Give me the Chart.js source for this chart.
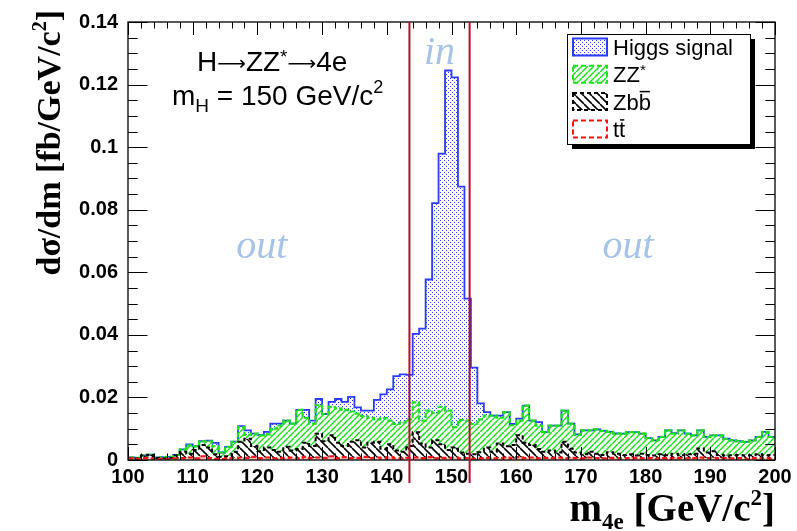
<!DOCTYPE html>
<html>
<head>
<meta charset="utf-8">
<script src="https://cdn.jsdelivr.net/npm/chart.js@4.4.0/dist/chart.umd.min.js"></script>
<style>
  html, body { margin: 0; padding: 0; background: #fff; }
  canvas { display: block; }
</style>
</head>
<body>
<canvas id="massChart" width="797" height="531"></canvas>
<script>
// m4e histogram, 1 GeV/c2 bins from 100 to 200
const binStart = 100;
const binWidth = 1;
const xTickValues = [100, 110, 120, 130, 140, 150, 160, 170, 180, 190, 200];
const yTickValues = [0, 0.02, 0.04, 0.06, 0.08, 0.1, 0.12, 0.14];

// dsigma/dm per bin [fb/GeV/c2], one entry per bin (stacked bottom -> top)
const ttbar = [
  .0005, .0004, .0006, .0005, .0003, .0004, .0003, .0005, .0006, .0008,
  .0005, .0012, .0006, .0004, .0003, .0005, .0006, .0008, .0007, .0010,
  .0006, .0008, .0005, .0006, .0007, .0008, .0005, .0010, .0006, .0008,
  .0007, .0012, .0005, .0009, .0006, .0007, .0010, .0006, .0008, .0005,
  .0009, .0006, .0005, .0007, .0008, .0006, .0009, .0005, .0007, .0006,
  .0008, .0005, .0006, .0004, .0005, .0007, .0005, .0006, .0008, .0005,
  .0009, .0006, .0008, .0005, .0007, .0006, .0008, .0005, .0007, .0006,
  .0005, .0008, .0006, .0005, .0007, .0006, .0005, .0006, .0007, .0005,
  .0006, .0004, .0006, .0005, .0007, .0006, .0005, .0006, .0008, .0006,
  .0007, .0005, .0006, .0005, .0006, .0004, .0006, .0005, .0007, .0005
];
const zbb = [
  .0001, .0001, .0008, .0011, .0003, .0001, .0003, .0010, .0020, .0012,
  .0027, .0036, .0034, .0014, .0007, .0007, .0020, .0050, .0061, .0035,
  .0022, .0032, .0027, .0020, .0035, .0022, .0030, .0045, .0039, .0076,
  .0053, .0067, .0050, .0036, .0052, .0056, .0030, .0049, .0050, .0031,
  .0041, .0024, .0021, .0038, .0081, .0047, .0031, .0058, .0043, .0026,
  .0032, .0019, .0014, .0014, .0020, .0033, .0021, .0047, .0036, .0043,
  .0070, .0049, .0040, .0030, .0019, .0024, .0016, .0053, .0029, .0018,
  .0013, .0018, .0014, .0011, .0018, .0014, .0011, .0012, .0007, .0015,
  .0010, .0010, .0012, .0010, .0013, .0009, .0013, .0014, .0029, .0018,
  .0021, .0011, .0008, .0010, .0010, .0010, .0009, .0013, .0008, .0011
];
const zzStar = [
  .0002, .0002, .0001, .0001, .0002, .0004, .0004, .0001, .0008, .0027,
  .0012, .0012, .0020, .0026, .0014, .0030, .0032, .0047, .0012, .0039,
  .0051, .0042, .0068, .0084, .0084, .0086, .0125, .0080, .0071, .0091,
  .0087, .0091, .0110, .0115, .0097, .0085, .0100, .0080, .0072, .0098,
  .0076, .0085, .0094, .0085, .0095, .0073, .0118, .0087, .0120, .0126,
  .0065, .0104, .0106, .0097, .0105, .0102, .0116, .0082, .0109, .0063,
  .0047, .0119, .0078, .0075, .0063, .0080, .0086, .0100, .0080, .0056,
  .0077, .0069, .0078, .0077, .0065, .0064, .0068, .0071, .0075, .0064,
  .0054, .0049, .0056, .0080, .0064, .0080, .0066, .0059, .0058, .0050,
  .0051, .0063, .0054, .0048, .0044, .0044, .0048, .0056, .0075, .0058
];
const higgs = [
  0, 0, 0, 0, 0, 0, 0, 0, 0, .0003,
  0, 0, .0002, .0011, 0, 0, .0001, .0003, .0015, 0,
  .0001, .0008, .0016, .0006, 0, 0, 0, .0025, .0010, .0020,
  0, .0016, .0030, .0026, .0047, .0020, .0018, .0023, .0062, .0076,
  .0100, .0153, .0154, .0142, .0219, .0294, .0419, .0671, .0809, .1087,
  .1118, .0746, .0390, .0180, .0051, .0011, 0, .0007, 0, .0004,
  .0006, 0, 0, .0011, 0, 0, 0, 0, 0, .0002,
  0, 0, 0, 0, 0, .0001, 0, 0, 0, 0,
  0, 0, 0, 0, .0002, 0, 0, 0, 0, 0,
  0, 0, 0, 0, 0, 0, 0, 0, 0, 0
];

// mass window ("in" region) edges
const cutLow = 143.5;
const cutHigh = 152.8;

const SANS = '"Liberation Sans", Arial, Helvetica, sans-serif';
const SERIF = '"Liberation Serif", "Times New Roman", serif';

function dotPattern(color) {
  const c = document.createElement('canvas');
  c.width = 4; c.height = 4;
  const g = c.getContext('2d');
  g.fillStyle = '#fff';
  g.fillRect(0, 0, 4, 4);
  g.fillStyle = color;
  g.fillRect(0, 0, 1, 1);
  g.fillRect(2, 2, 1, 1);
  return g.createPattern(c, 'repeat');
}

function hatchPattern(color, size, up, lw) {
  const c = document.createElement('canvas');
  c.width = size; c.height = size;
  const g = c.getContext('2d');
  g.strokeStyle = color;
  g.lineWidth = lw;
  g.beginPath();
  for (let k = -1; k <= 1; k++) {
    if (up) {
      g.moveTo(k * size, size); g.lineTo(k * size + size, 0);
    } else {
      g.moveTo(k * size, 0); g.lineTo(k * size + size, size);
    }
  }
  g.stroke();
  return g.createPattern(c, 'repeat');
}

const higgsFill = dotPattern('#2a3cff');
const zzFill = hatchPattern('#1ee01e', 6, true, 1.5);
const zbbFill = hatchPattern('#000', 8, false, 1.6);

function histPoints(vals) {
  const pts = vals.map((v, i) => ({ x: binStart + i * binWidth, y: v }));
  pts.push({ x: binStart + vals.length * binWidth, y: vals[vals.length - 1] });
  return pts;
}

// text with sub/superscripts and overlines
function richText(ctx, parts, x, y, align) {
  let w = 0;
  parts.forEach(p => { ctx.font = p.font; w += ctx.measureText(p.text).width; });
  let cx = align === 'right' ? x - w : x;
  ctx.textAlign = 'left';
  ctx.textBaseline = 'alphabetic';
  parts.forEach(p => {
    ctx.font = p.font;
    const pw = ctx.measureText(p.text).width;
    ctx.fillText(p.text, cx, y + (p.dy || 0));
    if (p.over) {
      ctx.save();
      ctx.lineWidth = 1.5;
      ctx.strokeStyle = ctx.fillStyle;
      ctx.beginPath();
      ctx.moveTo(cx + 1, y - p.over);
      ctx.lineTo(cx + pw - 1, y - p.over);
      ctx.stroke();
      ctx.restore();
    }
    cx += pw;
  });
}

const legendItems = [
  { parts: [{ text: 'Higgs signal' }], fill: higgsFill, line: '#2a3cff', dash: [] },
  { parts: [{ text: 'ZZ' }, { text: '*', small: true, dy: -7 }], fill: zzFill, line: '#1ee01e', dash: [5, 3] },
  { parts: [{ text: 'Zb' }, { text: 'b', over: 18 }], fill: zbbFill, line: '#000', dash: [4, 3] },
  { parts: [{ text: 't' }, { text: 't', over: 17 }], fill: null, line: '#ff1010', dash: [5, 3] }
];

const ARROW = '20px "DejaVu Sans", ' + SANS;

const rootFrame = {
  id: 'rootFrame',
  beforeDraw(chart) {
    const ctx = chart.ctx;
    ctx.save();
    ctx.fillStyle = '#fff';
    ctx.fillRect(0, 0, chart.width, chart.height);
    ctx.restore();
  },
  afterDatasetsDraw(chart) {
    const { ctx, chartArea: a, scales: { x, y } } = chart;
    ctx.save();
    // frame
    ctx.strokeStyle = '#000';
    ctx.lineWidth = 1.3;
    ctx.strokeRect(a.left, a.top, a.right - a.left, a.bottom - a.top);
    // ticks inside the frame, on all four sides
    ctx.lineWidth = 1;
    ctx.beginPath();
    for (let v = 100; v <= 200; v += 2) {
      const px = Math.round(x.getPixelForValue(v)) + 0.5;
      const len = v % 10 === 0 ? 13 : 6.5;
      ctx.moveTo(px, a.bottom); ctx.lineTo(px, a.bottom - len);
      ctx.moveTo(px, a.top); ctx.lineTo(px, a.top + len);
    }
    for (let k = 0; k <= 28; k++) {
      const py = Math.round(y.getPixelForValue(k * 0.005)) + 0.5;
      const len = k % 4 === 0 ? 19.5 : 9.7;
      ctx.moveTo(a.left, py); ctx.lineTo(a.left + len, py);
      ctx.moveTo(a.right, py); ctx.lineTo(a.right - len, py);
    }
    ctx.stroke();
    // mass window lines
    ctx.strokeStyle = '#b0102c';
    ctx.lineWidth = 2;
    ctx.beginPath();
    [cutLow, cutHigh].forEach(v => {
      const px = x.getPixelForValue(v);
      ctx.moveTo(px, a.top);
      ctx.lineTo(px, a.bottom + 23);
    });
    ctx.stroke();
    ctx.restore();
  },
  afterDraw(chart) {
    const { ctx, chartArea: a, scales: { x, y } } = chart;
    ctx.save();
    ctx.fillStyle = '#000';

    // axis titles
    richText(ctx, [
      { text: 'm', font: 'bold 39px ' + SERIF },
      { text: '4e', font: 'bold 23px ' + SERIF, dy: 8 },
      { text: ' [GeV/c', font: 'bold 39px ' + SERIF },
      { text: '2', font: 'bold 23px ' + SERIF, dy: -16 },
      { text: ']', font: 'bold 39px ' + SERIF }
    ], a.right, 521, 'right');

    ctx.save();
    ctx.translate(60, 10);
    ctx.rotate(-Math.PI / 2);
    richText(ctx, [
      { text: 'd\u03c3/dm [fb/GeV/c', font: 'bold 34px ' + SERIF },
      { text: '2', font: 'bold 20px ' + SERIF, dy: -14 },
      { text: ']', font: 'bold 34px ' + SERIF }
    ], 0, 0, 'right');
    ctx.restore();

    // process labels
    richText(ctx, [
      { text: 'H', font: '28px ' + SANS },
      { text: '\u27f6', font: ARROW, dy: -1 },
      { text: 'ZZ', font: '28px ' + SANS },
      { text: '*', font: '19px ' + SANS, dy: -8 },
      { text: '\u27f6', font: ARROW, dy: -1 },
      { text: '4e', font: '28px ' + SANS }
    ], 197, 71, 'left');
    richText(ctx, [
      { text: 'm', font: '28px ' + SANS },
      { text: 'H', font: '19px ' + SANS, dy: 7 },
      { text: ' = 150 GeV/c', font: '28px ' + SANS },
      { text: '2', font: '18px ' + SANS, dy: -12 }
    ], 172, 105, 'left');

    // in / out regions
    ctx.fillStyle = '#a6c3e8';
    ctx.font = 'italic 40px ' + SERIF;
    ctx.textAlign = 'center';
    ctx.fillText('in', (x.getPixelForValue(cutLow) + x.getPixelForValue(cutHigh)) / 2, 64);
    ctx.fillText('out', x.getPixelForValue(120.7), 258);
    ctx.fillText('out', x.getPixelForValue(177.3), 258);

    // legend box with shadow
    const lx = 567, ly = 34, lw = 183, lh = 110;
    ctx.fillStyle = '#000';
    ctx.fillRect(lx + 5, ly + 5, lw, lh);
    ctx.fillStyle = '#fff';
    ctx.fillRect(lx, ly, lw, lh);
    ctx.strokeStyle = '#000';
    ctx.lineWidth = 1;
    ctx.strokeRect(lx + 0.5, ly + 0.5, lw, lh);
    legendItems.forEach((it, i) => {
      const cy = 47 + i * 27.3;
      const sx = 573, sw = 34, sh = 17;
      if (it.fill) {
        ctx.fillStyle = it.fill;
        ctx.fillRect(sx, cy - sh / 2, sw, sh);
      }
      ctx.strokeStyle = it.line;
      ctx.lineWidth = 2;
      ctx.setLineDash(it.dash);
      ctx.strokeRect(sx, cy - sh / 2, sw, sh);
      ctx.setLineDash([]);
      ctx.fillStyle = '#000';
      richText(ctx, it.parts.map(p => ({
        text: p.text,
        font: (p.small ? '15px ' : '22px ') + SANS,
        dy: p.dy,
        over: p.over
      })), 613, cy + 8, 'left');
    });
    ctx.restore();
  }
};

// stepped 'before': each bin value runs flat from its low edge to the next edge
const lineDefaults = { stepped: 'before', pointRadius: 0, borderWidth: 1.8, tension: 0 };

new Chart(document.getElementById('massChart'), {
  type: 'line',
  data: {
    datasets: [
      { ...lineDefaults, label: 'tt', data: histPoints(ttbar), borderColor: '#ff1010', borderDash: [5, 3], backgroundColor: 'rgba(255,0,0,0.25)', fill: 'origin', borderWidth: 2.2 },
      { ...lineDefaults, label: 'Zbb', data: histPoints(zbb), borderColor: '#000', borderDash: [4, 3], backgroundColor: zbbFill, fill: '-1', borderWidth: 2 },
      { ...lineDefaults, label: 'ZZ*', data: histPoints(zzStar), borderColor: '#1ee01e', borderDash: [5, 2], backgroundColor: zzFill, fill: '-1', borderWidth: 2.2 },
      { ...lineDefaults, label: 'Higgs signal', data: histPoints(higgs), borderColor: '#2a3cff', backgroundColor: higgsFill, fill: '-1' }
    ]
  },
  options: {
    responsive: false,
    animation: false,
    events: [],
    layout: { padding: { top: 17, right: 22, left: 0, bottom: 0 } },
    plugins: { legend: { display: false }, tooltip: { enabled: false } },
    scales: {
      x: {
        type: 'linear',
        min: 100,
        max: 200,
        grid: { display: false, drawTicks: false },
        border: { display: false },
        afterBuildTicks: scale => { scale.ticks = xTickValues.map(v => ({ value: v })); },
        afterFit: scale => { scale.height = 71; },
        ticks: {
          padding: 5,
          maxRotation: 0,
          autoSkip: false,
          color: '#000',
          font: { family: SANS, size: 20, weight: 'bold' },
          callback: v => String(v)
        }
      },
      y: {
        stacked: true,
        min: 0,
        max: 0.14,
        grid: { display: false, drawTicks: false },
        border: { display: false },
        afterBuildTicks: scale => { scale.ticks = yTickValues.map(v => ({ value: v })); },
        afterFit: scale => { scale.width = 128; },
        ticks: {
          padding: 10,
          color: '#000',
          font: { family: SANS, size: 20, weight: 'bold' },
          callback: v => String(+v.toFixed(2))
        }
      }
    }
  },
  plugins: [rootFrame]
});
</script>
</body>
</html>
